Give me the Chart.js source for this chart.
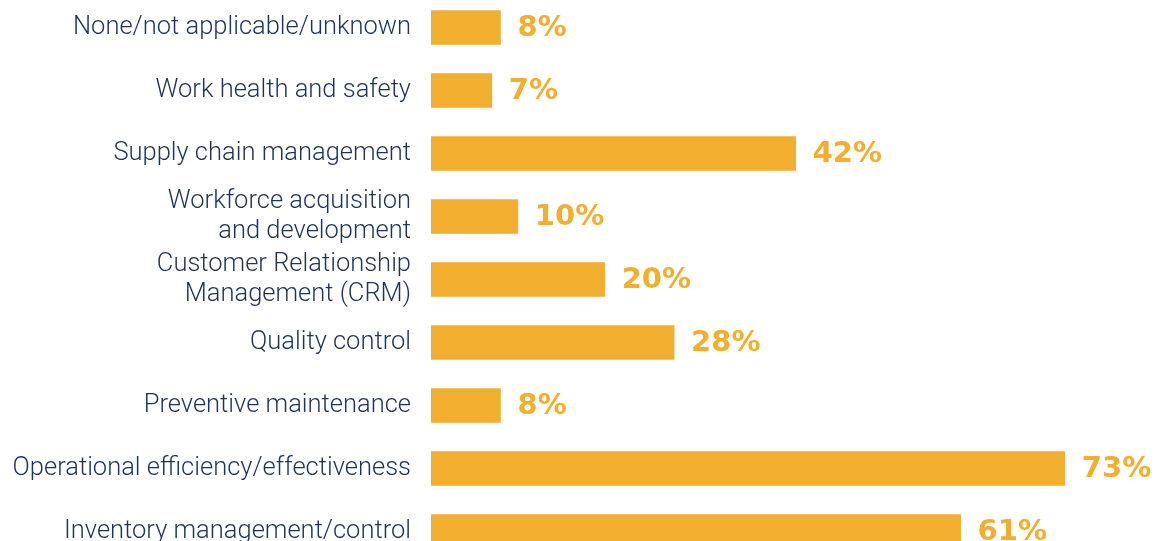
<!DOCTYPE html>
<html lang="en">
<head>
    <meta charset="UTF-8">
    <title>Use cases</title>
    <script src="https://cdn.jsdelivr.net/npm/chart.js"></script>
    <style>
        html, body {
            margin: 0;
            padding: 0;
            background: #ffffff;
            overflow: hidden;
        }
        .wrap {
            position: relative;
            top: -4px;
            width: 1169px;
            height: 567px;
        }
    </style>
</head>
<body>
    <div class="wrap">
        <canvas id="chart"></canvas>
    </div>

    <script>
        // categories, top to bottom
        const categories = [
            'None/not applicable/unknown',
            'Work health and safety',
            'Supply chain management',
            ['Workforce acquisition', 'and development'],
            ['Customer Relationship', 'Management (CRM)'],
            'Quality control',
            'Preventive maintenance',
            'Operational efficiency/effectiveness',
            'Inventory management/control'
        ];
        // share of respondents, %
        const shares = [8, 7, 42, 10, 20, 28, 8, 73, 61];

        const barColor = '#F2AE2F';
        const textColor = '#1E3355';

        // draws "NN%" to the right of each bar
        const valueLabels = {
            id: 'valueLabels',
            afterDatasetsDraw(chart) {
                const ctx = chart.ctx;
                const meta = chart.getDatasetMeta(0);
                ctx.save();
                ctx.fillStyle = barColor;
                ctx.font = 'bold 29px "DejaVu Sans", sans-serif';
                ctx.textAlign = 'left';
                ctx.textBaseline = 'middle';
                meta.data.forEach((bar, i) => {
                    ctx.fillText(shares[i] + '%', bar.x + 17, bar.y + 1);
                });
                ctx.restore();
            }
        };

        new Chart(document.getElementById('chart'), {
            type: 'bar',
            data: {
                labels: categories,
                datasets: [{
                    data: shares,
                    backgroundColor: barColor,
                    borderWidth: 0,
                    barThickness: 34
                }]
            },
            options: {
                indexAxis: 'y',
                responsive: true,
                maintainAspectRatio: false,
                animation: false,
                layout: { padding: 0 },
                plugins: {
                    legend: { display: false },
                    tooltip: { enabled: false }
                },
                scales: {
                    x: {
                        display: false,
                        min: 0,
                        max: 85
                    },
                    y: {
                        grid: { display: false, drawTicks: false },
                        border: { display: false },
                        ticks: {
                            color: textColor,
                            font: { family: 'Roboto', weight: '300', size: 25.5, lineHeight: 1.15 },
                            padding: 20
                        },
                        afterFit(scale) {
                            scale.width = 431;
                            // no extra room above/below for the first and last label
                            scale.paddingTop = 0;
                            scale.paddingBottom = 0;
                        }
                    }
                }
            },
            plugins: [valueLabels]
        });
    </script>
</body>
</html>
